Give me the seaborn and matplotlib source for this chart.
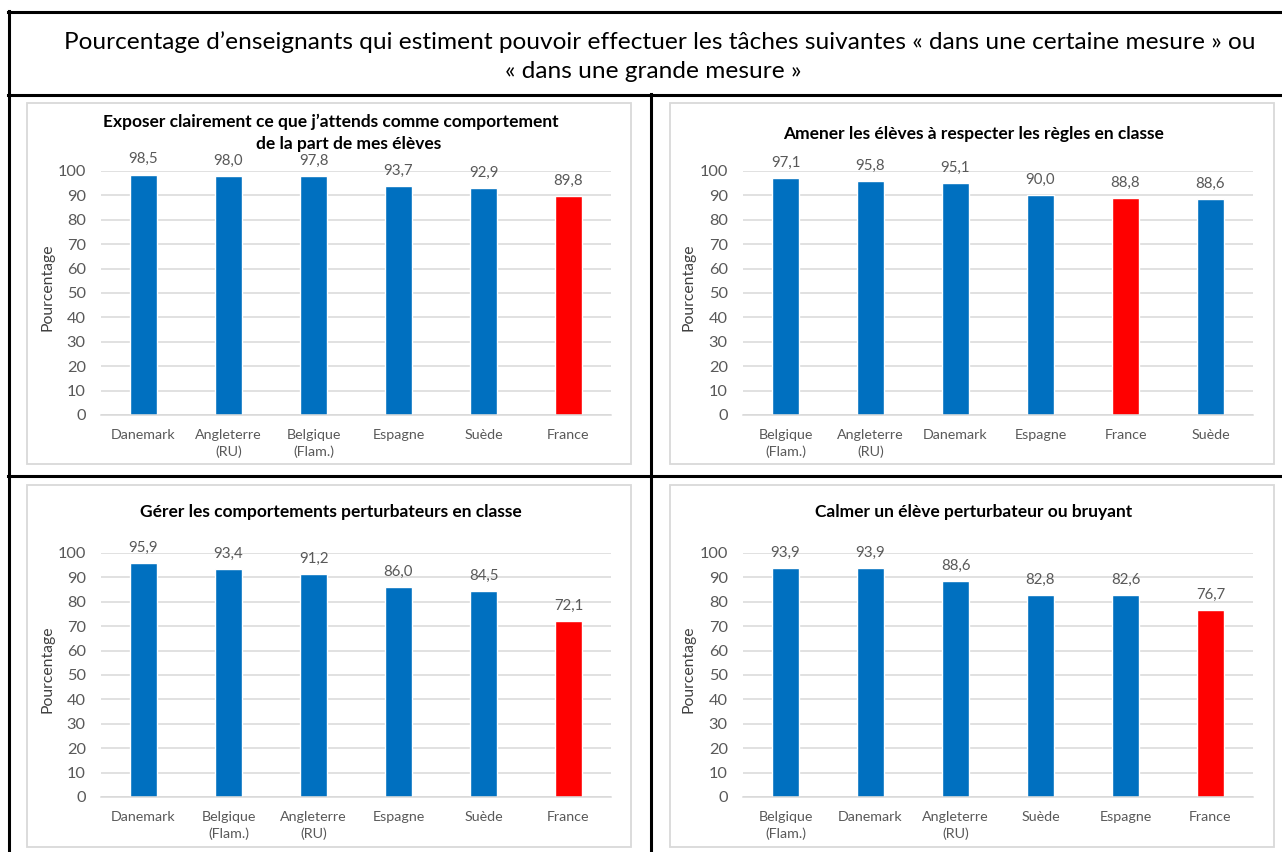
import matplotlib
matplotlib.use("Agg")
import matplotlib.pyplot as plt
from matplotlib.lines import Line2D
from matplotlib.patches import Rectangle
import seaborn as sns

sns.set_theme(style="white")
plt.rcParams["font.family"] = ["Lato", "DejaVu Sans"]

# ---- data -------------------------------------------------------------
main_title_1 = "Pourcentage d’enseignants qui estiment pouvoir effectuer les tâches suivantes « dans une certaine mesure » ou"
main_title_2 = "« dans une grande mesure »"

titles = [
    ["Exposer clairement ce que j’attends comme comportement", "de la part de mes élèves"],
    ["Amener les élèves à respecter les règles en classe"],
    ["Gérer les comportements perturbateurs en classe"],
    ["Calmer un élève perturbateur ou bruyant"],
]

cats_1 = ["Danemark", "Angleterre\n(RU)", "Belgique\n(Flam.)", "Espagne", "Suède", "France"]
vals_1 = [98.5, 98.0, 97.8, 93.7, 92.9, 89.8]

cats_2 = ["Belgique\n(Flam.)", "Angleterre\n(RU)", "Danemark", "Espagne", "France", "Suède"]
vals_2 = [97.1, 95.8, 95.1, 90.0, 88.8, 88.6]

cats_3 = ["Danemark", "Belgique\n(Flam.)", "Angleterre\n(RU)", "Espagne", "Suède", "France"]
vals_3 = [95.9, 93.4, 91.2, 86.0, 84.5, 72.1]

cats_4 = ["Belgique\n(Flam.)", "Danemark", "Angleterre\n(RU)", "Suède", "Espagne", "France"]
vals_4 = [93.9, 93.9, 88.6, 82.8, 82.6, 76.7]

yticks = list(range(0, 101, 10))
highlight = "France"

# ---- styling ----------------------------------------------------------
BLUE = "#0070C0"
RED = "#FF0000"
GRID = "#D9D9D9"
TXT = "#595959"

W, H = 1282, 852
fig = plt.figure(figsize=(W / 100, H / 100), dpi=100)
fig.patch.set_facecolor("white")


def fx(px):
    return px / W


def fy(py):
    return 1 - py / H


def hline(y, x0, x1, **kw):
    fig.add_artist(Line2D([fx(x0), fx(x1)], [fy(y), fy(y)], transform=fig.transFigure, **kw))


def vline(x, y0, y1, **kw):
    fig.add_artist(Line2D([fx(x), fx(x)], [fy(y0), fy(y1)], transform=fig.transFigure, **kw))


# table frame
frame = dict(color="black", lw=2.2, solid_capstyle="projecting")
hline(11.5, 8, W + 5, **frame)
hline(94.5, 8, W + 5, **frame)
hline(476, 8, W + 5, **frame)
vline(8.5, 11, H + 5, **frame)
vline(651, 94, H + 5, **frame)

fig.text(fx(660), fy(42), main_title_1, ha="center", va="center", fontsize=17.6, color="black")
fig.text(fx(653), fy(71), main_title_2, ha="center", va="center", fontsize=17.6, color="black")

panels = [
    (cats_1, vals_1, (27, 103, 631, 464), (101, 171, 611, 415)),
    (cats_2, vals_2, (670, 103, 1274, 464), (743, 171, 1253, 415)),
    (cats_3, vals_3, (27, 485, 631, 847), (101, 553, 611, 797)),
    (cats_4, vals_4, (670, 485, 1274, 847), (743, 553, 1253, 797)),
]

for (cats, vals, box, area), title in zip(panels, titles):
    bx0, by0, bx1, by1 = box
    fig.add_artist(Rectangle((fx(bx0), fy(by1)), fx(bx1 - bx0), (by1 - by0) / H,
                             transform=fig.transFigure, fill=False,
                             edgecolor=GRID, lw=1.3))
    ax0, ay0, ax1, ay1 = area
    ax = fig.add_axes([fx(ax0), fy(ay1), fx(ax1 - ax0), (ay1 - ay0) / H])

    palette = {c: (RED if c == highlight else BLUE) for c in cats}
    sns.barplot(x=cats, y=vals, hue=cats, palette=palette, legend=False,
                width=0.31, saturation=1, ax=ax, order=cats)

    ax.set_ylim(0, 100)
    ax.set_xlim(-0.5, len(cats) - 0.5)
    ax.set_yticks(yticks)
    ax.yaxis.grid(True, color=GRID, lw=1.1)
    ax.set_axisbelow(True)
    for s in ["top", "right", "left"]:
        ax.spines[s].set_visible(False)
    ax.spines["bottom"].set_color(GRID)
    ax.spines["bottom"].set_linewidth(1.1)
    ax.tick_params(axis="both", length=0, colors=TXT)
    ax.tick_params(axis="y", labelsize=11.8, pad=11)
    ax.tick_params(axis="x", labelsize=10.3, pad=10)
    for lab in ax.get_xticklabels():
        lab.set_linespacing(1.45)
    ax.set_xlabel("")
    ax.set_ylabel("")

    for i, v in enumerate(vals):
        ax.annotate(f"{v:.1f}".replace(".", ","), (i, v), xytext=(0, 11),
                    textcoords="offset points", ha="center", va="center",
                    fontsize=10.8, color=TXT, annotation_clip=False)

    fig.text(fx(ax0 - 54), fy((ay0 + ay1) / 2 - 6), "Pourcentage", rotation=90,
             ha="center", va="center", fontsize=11.3, color="#404040")

    cx = (bx0 + bx1) / 2 + 2
    if len(title) == 2:
        fig.text(fx(cx), fy(by0 + 19), title[0], ha="center", va="center",
                 fontsize=12.5, fontweight="bold", color="black")
        fig.text(fx(cx + 18), fy(by0 + 41), title[1], ha="center", va="center",
                 fontsize=12.5, fontweight="bold", color="black")
    else:
        fig.text(fx(cx), fy(by0 + 31 if by0 < 200 else by0 + 27), title[0],
                 ha="center", va="center", fontsize=12.5, fontweight="bold", color="black")

fig.savefig("out.png", dpi=100, facecolor="white")
